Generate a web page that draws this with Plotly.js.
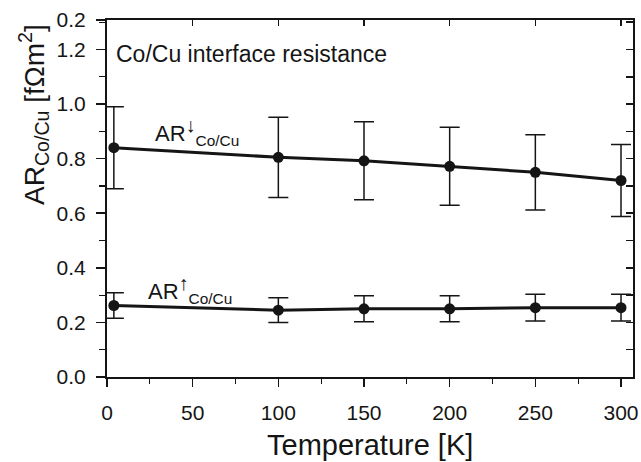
<!DOCTYPE html>
<html><head><meta charset="utf-8">
<script src="https://cdn.plot.ly/plotly-3.0.1.min.js"></script>
<style>html,body{margin:0;padding:0;background:#fff}</style>
</head><body><div id="chart" style="width:641px;height:462px"></div>
<script>
var temperature = [4, 100, 150, 200, 250, 300];
var arDown = [0.84, 0.805, 0.792, 0.772, 0.75, 0.72];
var arDownErr = [0.15, 0.147, 0.143, 0.143, 0.138, 0.132];
var arUp = [0.262, 0.245, 0.25, 0.25, 0.254, 0.254];
var arUpErr = [0.047, 0.045, 0.048, 0.048, 0.049, 0.049];
var yTickVals = [0, 0.2, 0.4, 0.6, 0.8, 1.0, 1.2, 1.308];
var yTickText = ['0.0', '0.2', '0.4', '0.6', '0.8', '1.0', '1.2', '0.2'];
var xTickVals = [0, 50, 100, 150, 200, 250, 300];

var ink = '#151515';
function series(y, err) {
  return {
    x: temperature, y: y, type: 'scatter', mode: 'lines+markers',
    line: {color: ink, width: 3},
    marker: {color: ink, size: 11},
    error_y: {type: 'data', array: err, visible: true, color: ink, thickness: 1.5, width: 10},
    showlegend: false, hoverinfo: 'skip'
  };
}
var data = [
  series(arDown, arDownErr),
  series(arUp, arUpErr),
  {x: [temperature[0]], y: [arUp[0]], xaxis: 'x2', yaxis: 'y2', mode: 'markers',
   marker: {opacity: 0}, showlegend: false, hoverinfo: 'skip'}
];
var fam = 'Liberation Sans, Arial, sans-serif';
var layout = {
  width: 641, height: 462,
  margin: {l: 107, r: 8, t: 20, b: 85},
  paper_bgcolor: '#fff', plot_bgcolor: '#fff',
  font: {family: fam, color: ink},
  xaxis: {
    range: [0, 307], tickvals: xTickVals, ticks: 'outside', ticklen: 8, tickwidth: 1.5,
    tickcolor: ink, showline: true, linewidth: 2, linecolor: ink, showgrid: false, zeroline: false,
    tickfont: {size: 21, family: fam, color: ink}, ticklabelstandoff: 8,
    minor: {dtick: 25, ticks: 'outside', ticklen: 5, tickcolor: ink, tickwidth: 1.2}
  },
  yaxis: {
    range: [0, 1.308], tickvals: yTickVals, ticktext: yTickText, ticks: 'outside', ticklen: 9,
    tickwidth: 1.5, tickcolor: ink, showline: true, linewidth: 2, linecolor: ink,
    showgrid: false, zeroline: false, tickfont: {size: 21, family: fam, color: ink},
    ticklabelstandoff: 6,
    minor: {dtick: 0.1, ticks: 'outside', ticklen: 6, tickcolor: ink, tickwidth: 1.2}
  },
  xaxis2: {
    overlaying: 'x', side: 'top', range: [0, 307], tickvals: xTickVals, ticks: 'inside', ticklen: 6,
    tickcolor: ink, tickwidth: 1.2, showticklabels: false, showline: true, linewidth: 2, linecolor: ink,
    showgrid: false, zeroline: false, anchor: 'y2'
  },
  yaxis2: {
    overlaying: 'y', side: 'right', range: [0, 1.308], dtick: 0.1, tick0: 0, ticks: 'inside', ticklen: 7,
    tickcolor: ink, tickwidth: 1.5, showticklabels: false, showline: true, linewidth: 2, linecolor: ink,
    showgrid: false, zeroline: false, anchor: 'x2'
  },
  annotations: [
    {xref: 'paper', yref: 'paper', x: -0.14, y: 0.735, xanchor: 'center', yanchor: 'middle',
     textangle: -90, showarrow: false,
     text: 'AR<sub>Co/Cu</sub> [fΩm<sup>2</sup>]', font: {size: 28, family: fam, color: ink}},
    {xref: 'paper', yref: 'paper', x: 0.014, y: 0.905, xanchor: 'left', yanchor: 'middle', showarrow: false,
     text: 'Co/Cu interface resistance', font: {size: 23, family: fam, color: ink}},
    {xref: 'paper', yref: 'paper', x: 0.5, y: -0.19, xanchor: 'center', yanchor: 'middle', showarrow: false,
     text: 'Temperature [K]', font: {size: 29, family: fam, color: ink}},
    {xref: 'x', yref: 'y', x: 27, y: 0.9, xanchor: 'left', yanchor: 'middle', showarrow: false,
     text: 'AR<sup><span style="font-size:20px;color:#151515">↓</span></sup><sub>Co/Cu</sub>', font: {size: 22, family: fam, color: ink}},
    {xref: 'x', yref: 'y', x: 23, y: 0.32, xanchor: 'left', yanchor: 'middle', showarrow: false,
     text: 'AR<sup><span style="font-size:20px;color:#151515">↑</span></sup><sub>Co/Cu</sub>', font: {size: 22, family: fam, color: ink}}
  ]
};
Plotly.newPlot('chart', data, layout, {staticPlot: true, displayModeBar: false});
</script>
</body></html>
